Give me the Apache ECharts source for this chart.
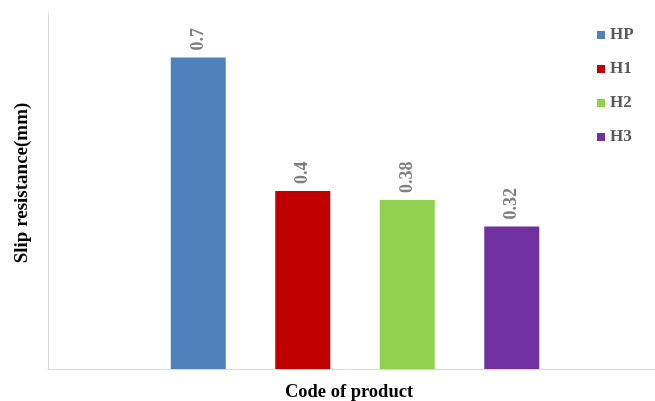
<!DOCTYPE html>
<html>
<head>
<meta charset="utf-8">
<script src="https://cdn.jsdelivr.net/npm/echarts@6/dist/echarts.min.js"></script>
<style>html,body{margin:0;padding:0;background:#fff;}#c{width:655px;height:401px;}</style>
</head>
<body>
<div id="c"></div>
<script>
const categories = ['Code of product'];
const seriesNames = ['HP', 'H1', 'H2', 'H3'];
const seriesValues = [[0.7], [0.4], [0.38], [0.32]];
const seriesColors = ['#4F81BD', '#C00000', '#92D050', '#7030A0'];
const yAxisTitle = 'Slip resistance(mm)';
const xAxisTitle = 'Code of product';

const chart = echarts.init(document.getElementById('c'));
const serif = '"Liberation Serif", "DejaVu Serif", serif';
chart.setOption({
  animation: false,
  grid: { left: 48, width: 614, top: 13, height: 356, containLabel: false, outerBoundsMode: 'none' },
  legend: {
    orient: 'vertical', left: 597, top: 26, padding: 0, itemWidth: 8, itemHeight: 8, itemGap: 16,
    icon: 'rect',
    textStyle: { fontFamily: serif, fontWeight: 'bold', fontSize: 17, color: '#595959', lineHeight: 18 },
    data: seriesNames
  },
  xAxis: {
    type: 'category', data: categories,
    axisLine: { lineStyle: { color: '#D9D9D9', width: 1 } },
    axisTick: { show: false }, axisLabel: { show: false }
  },
  yAxis: {
    type: 'value', min: 0, max: 0.8,
    axisLine: { show: true, lineStyle: { color: '#D9D9D9', width: 1 } },
    axisTick: { show: false }, axisLabel: { show: false }, splitLine: { show: false }
  },
  graphic: [
    { type: 'text', x: 22, y: 183, rotation: Math.PI / 2,
      style: { text: yAxisTitle, fontFamily: serif, fontWeight: 'bold', fontSize: 19, fill: '#000', align: 'center', verticalAlign: 'middle' } },
    { type: 'text', x: 349, y: 392,
      style: { text: xAxisTitle, fontFamily: serif, fontWeight: 'bold', fontSize: 18.5, fill: '#000', align: 'center', verticalAlign: 'middle' } }
  ],
  series: seriesNames.map((n, i) => ({
    name: n, type: 'bar', data: seriesValues[i], barWidth: 55, barGap: '90%',
    itemStyle: { color: seriesColors[i] },
    label: {
      show: true, position: 'top', rotate: 90, align: 'left', verticalAlign: 'middle', distance: 7,
      fontFamily: serif, fontWeight: 'bold', fontSize: 18, color: '#7F7F7F'
    }
  }))
});
</script>
</body>
</html>
